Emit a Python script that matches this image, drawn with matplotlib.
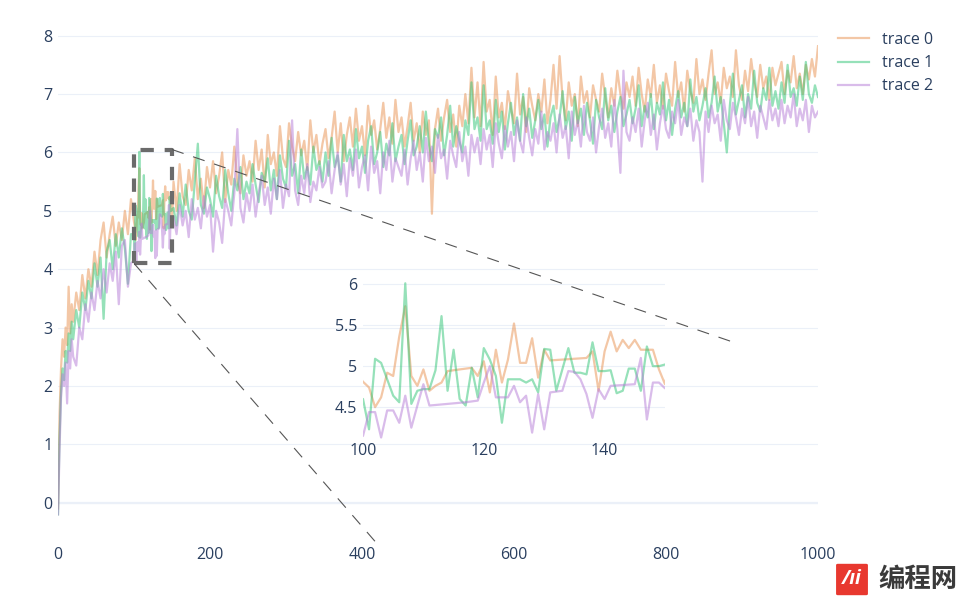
import matplotlib
matplotlib.use("Agg")
import matplotlib.pyplot as plt
from matplotlib.lines import Line2D
from matplotlib.patches import FancyBboxPatch

# ---------------- data ----------------
x_left = list(range(0, 21, 2)) + list(range(24, 97, 4))
x_right = list(range(152, 1001, 4))

x0_inset = list(range(100, 115)) + list(range(117, 132)) + list(range(137, 151))
x1_inset = list(range(100, 151))
x2_inset = list(range(100, 112)) + list(range(117, 142)) + list(range(145, 151))

y0_left = [-0.1, 1.5, 2.3, 2.8, 2.5, 3.0, 2.7, 3.7, 2.9, 3.4, 3.1,
           3.6, 3.3, 3.9, 3.5, 4.0, 3.7, 4.3, 3.9, 4.5, 4.8,
           4.2, 4.6, 4.9, 4.4, 4.8, 4.5, 5.0, 4.6, 5.2]
y1_left = [-0.2, 1.1, 1.9, 2.3, 2.1, 2.6, 2.4, 2.9, 2.6, 3.1, 2.8,
           3.3, 3.0, 3.6, 3.3, 3.8, 3.5, 4.1, 3.7, 4.2, 3.15,
           4.3, 4.5, 4.0, 4.6, 4.2, 4.7, 4.35, 3.75, 4.6]
y2_left = [-0.2, 0.9, 1.8, 2.2, 2.0, 2.4, 1.7, 2.6, 2.3, 2.8, 2.5,
           2.35, 3.0, 2.8, 3.4, 3.1, 3.6, 3.3, 3.8, 3.5, 4.0,
           3.6, 4.1, 3.8, 4.3, 3.4, 4.4, 4.5, 3.7, 4.1]

y0_inset = [4.81, 4.74, 4.50, 4.62, 4.92, 4.88, 5.36, 5.73, 4.88, 4.76, 4.96, 4.70, 4.76, 4.80, 4.94,
            4.97, 4.98, 4.88, 5.06, 4.68, 5.20, 4.80, 5.08, 5.52, 5.04, 5.04, 5.34, 4.86, 5.20, 5.07,
            5.10, 5.18, 4.70, 5.18, 5.42, 5.18, 5.32, 5.22, 5.32, 5.20, 5.20, 5.20, 4.96, 4.78]
y1_inset = [4.60, 4.23, 5.09, 5.04, 4.84, 4.64, 4.56, 6.01, 4.54, 4.70, 4.72, 4.72, 4.95, 5.61, 4.70,
            5.20, 4.60, 4.52, 4.98, 4.62, 5.22, 5.08, 4.88, 4.31, 4.84, 4.84, 4.84, 4.80, 4.84, 4.68,
            5.21, 5.20, 4.70, 4.96, 5.22, 4.92, 4.92, 4.90, 5.29, 4.94, 4.94, 4.95, 4.67, 4.70, 4.97,
            4.97, 4.70, 5.24, 5.00, 5.00, 5.02]
y2_inset = [4.15, 4.44, 4.44, 4.13, 4.46, 4.46, 4.31, 4.64, 4.25, 4.52, 4.78, 4.52,
            4.56, 4.57, 4.58, 4.80, 5.00, 4.62, 4.62, 4.62, 4.76, 4.56, 4.64, 4.19, 4.66, 4.23,
            4.68, 4.69, 4.70, 4.94, 4.93, 4.84, 4.66, 4.37, 4.72, 4.60, 4.76,
            4.78, 5.10, 4.35, 4.80, 4.80, 4.73]

y0_right = [5.5, 5.0, 5.8, 5.25, 5.1, 5.7, 5.35, 5.9, 5.2, 5.55, 5.05, 5.75, 5.4, 5.85, 5.3, 5.6, 6.0, 5.15, 5.7, 5.45, 6.1, 5.5, 5.3, 5.95, 5.6,
            5.85, 5.5, 6.2, 5.7, 6.05, 5.4, 6.3, 5.8, 6.0, 5.6, 6.45, 5.9, 5.75, 6.5, 6.1, 5.85, 6.35, 5.95, 6.2, 5.7, 6.55, 6.0, 6.3, 5.8, 6.15,
            6.4, 5.9, 6.25, 6.7, 6.0, 6.5, 5.85, 6.3, 6.6, 6.1, 6.75, 6.2, 6.45, 5.95, 6.8, 6.3, 6.55, 6.05, 6.4, 6.85, 6.25, 6.6, 6.15, 6.9, 6.35,
            6.6, 6.1, 6.45, 6.85, 6.2, 6.5, 6.0, 6.7, 6.3, 6.55, 4.95, 6.4, 6.75, 6.2, 6.6, 6.9, 6.35, 6.65, 6.1, 6.8, 6.45, 7.0, 6.5, 7.45, 6.6,
            7.2, 6.45, 7.55, 6.7, 6.9, 6.3, 7.3, 6.6, 6.85, 6.4, 7.05, 6.75, 6.5, 7.35, 6.65, 6.95, 6.35, 7.1, 6.8, 6.55, 7.0, 6.7, 7.25, 6.5, 6.9,
            7.5, 6.75, 7.65, 6.9, 6.55, 7.2, 6.8, 7.0, 6.45, 7.3, 6.85, 7.05, 6.6, 7.15, 6.9, 6.7, 7.35, 6.95, 6.6, 7.1, 6.8, 7.4, 7.0, 6.75, 7.2,
            6.95, 7.3, 6.8, 7.45, 7.0, 6.7, 7.25, 6.95, 7.5, 6.85, 7.15, 6.75, 7.35, 7.05, 6.8, 7.55, 6.95, 7.2, 6.7, 7.4, 7.05, 6.85, 7.6, 7.0, 7.25,
            6.9, 7.35, 7.75, 7.0, 7.2, 6.85, 7.45, 7.1, 7.3, 6.95, 7.75, 7.15, 6.9, 7.4, 7.05, 7.6, 7.2, 6.95, 7.5, 7.1, 7.3, 6.9, 7.45, 7.15, 7.35,
            7.55, 7.0, 7.4, 7.2, 7.65, 7.1, 7.35, 7.0, 7.5, 7.25, 7.6, 7.3, 7.82]
y1_right = [5.05, 4.75, 5.3, 4.9, 5.45, 5.0, 4.85, 5.5, 6.15, 5.1, 4.95, 5.4, 5.2, 4.9, 5.6, 5.25, 5.05, 5.7, 5.3, 5.0, 5.55, 5.35, 5.75, 5.2, 5.5,
            5.3, 5.8, 5.45, 5.15, 5.65, 5.5, 5.9, 5.35, 5.7, 5.2, 5.95, 5.55, 5.4, 6.2, 5.6, 5.8, 5.3, 6.05, 5.55, 5.75, 5.45, 6.1, 5.7, 5.85, 5.5,
            6.0, 5.6, 6.25, 5.75, 5.95, 5.5, 6.3, 5.85, 6.05, 5.7, 6.4, 5.9, 6.1, 5.65, 6.2, 6.45, 5.8, 6.0, 6.35, 5.75, 6.15, 5.95, 6.5, 5.85, 6.1,
            6.3, 5.8, 6.2, 6.55, 5.95, 6.1, 6.45, 6.0, 6.7, 6.15, 5.85, 6.4, 6.25, 6.6, 5.95, 6.3, 6.8, 6.1, 6.45, 6.2, 6.0, 6.55, 6.3, 7.2, 6.4,
            6.6, 6.2, 7.15, 6.4, 6.55, 6.15, 6.9, 6.35, 6.7, 6.05, 6.5, 6.85, 6.3, 6.6, 6.2, 7.0, 6.45, 6.75, 6.25, 6.55, 6.9, 6.4, 6.65, 6.1, 6.6,
            6.8, 6.35, 6.6, 7.05, 6.4, 6.7, 6.2, 6.95, 6.5, 6.75, 6.3, 6.85, 6.55, 6.15, 6.9, 6.6, 6.4, 7.1, 6.55, 6.8, 6.35, 6.7, 6.95, 6.45, 6.65,
            6.9, 6.5, 6.75, 7.15, 6.45, 6.8, 6.6, 7.0, 6.4, 6.85, 6.65, 7.2, 6.55, 6.9, 6.3, 6.75, 7.05, 6.6, 6.85, 6.45, 7.25, 6.7, 6.95, 6.55, 6.8,
            7.1, 6.6, 6.85, 7.3, 6.7, 6.95, 6.5, 6.0, 6.8, 7.35, 6.65, 6.9, 7.15, 6.6, 7.0, 6.75, 7.4, 6.85, 6.7, 7.1, 6.9, 7.45, 6.8, 7.05, 6.75,
            7.2, 6.85, 7.5, 6.95, 7.1, 6.8, 7.3, 6.9, 7.55, 7.0, 6.85, 7.15, 6.95]
y2_right = [4.9, 4.6, 5.1, 4.75, 5.0, 4.55, 5.2, 4.85, 5.05, 4.7, 5.25, 4.9, 5.1, 4.3, 5.0, 4.8, 4.45, 5.2, 5.0, 4.75, 5.3, 6.4, 5.05, 4.8, 5.3,
            5.0, 5.45, 4.9, 5.3, 5.6, 5.1, 5.4, 4.95, 5.55, 5.2, 5.7, 5.05, 5.45, 5.25, 6.55, 5.35, 5.1, 5.6, 5.3, 5.8, 5.15, 5.5, 5.35, 5.75, 5.4,
            5.5, 5.85, 5.3, 5.7, 6.0, 5.45, 5.8, 5.25, 5.9, 5.6, 6.05, 5.4, 5.75, 5.95, 5.35, 6.1, 5.65, 5.85, 5.3, 6.0, 5.7, 6.2, 5.5, 5.9, 5.75,
            5.6, 6.05, 5.45, 5.9, 6.2, 5.7, 6.0, 5.5, 6.25, 5.85, 6.1, 5.65, 6.3, 5.9, 6.05, 5.55, 6.2, 5.95, 5.75, 6.35, 5.85, 6.1, 5.6, 6.3, 6.0,
            6.25, 5.8, 6.4, 6.05, 6.3, 5.75, 6.5, 6.15, 5.9, 6.45, 6.1, 6.35, 5.85, 6.55, 6.2, 6.0, 6.6, 6.25, 5.95, 6.4, 6.15, 6.7, 6.05, 6.35, 6.2,
            6.5, 6.0, 6.65, 6.25, 6.45, 5.9, 6.7, 6.3, 6.55, 6.1, 6.8, 6.35, 6.2, 6.6, 6.0, 6.45, 6.75, 6.25, 6.5, 6.1, 6.9, 6.4, 5.65, 7.4, 6.35,
            6.2, 6.6, 6.35, 6.75, 6.1, 6.55, 6.85, 6.3, 6.65, 6.05, 6.5, 6.8, 6.4, 6.25, 6.7, 6.5, 6.9, 6.3, 6.6, 6.45, 6.75, 6.2, 6.55, 6.35, 5.5,
            6.7, 6.35, 6.8, 6.5, 6.65, 6.2, 6.9, 6.55, 6.4, 6.85, 6.6, 6.3, 6.75, 6.5, 6.95, 6.45, 6.7, 6.25, 6.8, 6.6, 6.4, 6.9, 6.55, 6.75, 6.45,
            6.9, 6.5, 6.8, 6.6, 7.0, 6.45, 6.75, 6.55, 6.9, 6.35, 6.8, 6.6, 6.7]

trace_names = ["trace 0", "trace 1", "trace 2"]
xs = [x_left + x0_inset + x_right, x_left + x1_inset + x_right, x_left + x2_inset + x_right]
ys = [y0_left + y0_inset + y0_right, y1_left + y1_inset + y1_right, y2_left + y2_inset + y2_right]

zoom_x = [100, 150]
zoom_y = [4.1, 6.05]
connector_ends = [(893, 2.73), (419, -0.69)]

# ---------------- style ----------------
colors = ["#E8904E", "#2EC474", "#B47AD6"]
alpha = 0.5
grid_c = "#EBF0F8"
tick_c = "#2a3f5f"
FS = 11.5
plt.rcParams["font.family"] = ["Open Sans", "DejaVu Sans"]
W, H = 966, 598
fig = plt.figure(figsize=(W / 100, H / 100), dpi=100)

def px_axes(l, t, r, b):
    return [l / W, 1 - b / H, (r - l) / W, (b - t) / H]

ax = fig.add_axes(px_axes(58, 24, 818, 543))
for k in range(3):
    ax.plot(xs[k], ys[k], color=colors[k], alpha=alpha, lw=1.6, label=trace_names[k], zorder=3)
ax.set_xlim(0, 1000)
ax.set_ylim(-0.69, 8.2)
ax.set_yticks(range(0, 9))
ax.set_xticks([0, 200, 400, 600, 800, 1000])
for s in ax.spines.values():
    s.set_visible(False)
ax.grid(axis="y", color=grid_c, lw=0.8, zorder=0)
ax.grid(axis="x", visible=False)
ax.axhline(0, color=grid_c, lw=1.6, zorder=1)
ax.tick_params(length=0, labelsize=FS, labelcolor=tick_c)
ax.tick_params(axis="x", pad=3)
ax.tick_params(axis="y", pad=4)
ax.set_axisbelow(True)

# zoom rectangle
rx = [zoom_x[0], zoom_x[1], zoom_x[1], zoom_x[0], zoom_x[0]]
ry = [zoom_y[0], zoom_y[0], zoom_y[1], zoom_y[1], zoom_y[0]]
ax.plot(rx, ry, color="#6b6b6b", lw=3, dashes=(3.2, 2.6), zorder=5, solid_capstyle="butt",
        dash_capstyle="butt")
# connectors
ax.plot([zoom_x[1], connector_ends[0][0]], [zoom_y[1], connector_ends[0][1]],
        color="#555555", lw=0.8, dashes=(11, 9), zorder=5, clip_on=False)
ax.plot([zoom_x[0], connector_ends[1][0]], [zoom_y[0], connector_ends[1][1]],
        color="#555555", lw=0.8, dashes=(11, 9), zorder=5, clip_on=False)

# inset
axi = fig.add_axes(px_axes(363, 280, 665, 440))
axi.patch.set_alpha(0)
for k in range(3):
    axi.plot(xs[k], ys[k], color=colors[k], alpha=alpha, lw=1.6, zorder=3)
axi.set_xlim(*zoom_x)
axi.set_ylim(*zoom_y)
axi.set_xticks([100, 120, 140])
axi.set_yticks([4.5, 5, 5.5, 6])
axi.set_yticklabels(["4.5", "5", "5.5", "6"])
for s in axi.spines.values():
    s.set_visible(False)
axi.grid(axis="y", color=grid_c, lw=0.8, zorder=0)
axi.tick_params(length=0, labelsize=FS, labelcolor=tick_c)
axi.tick_params(axis="x", pad=2)
axi.tick_params(axis="y", pad=4)

# legend
handles = [Line2D([], [], color=colors[k], alpha=alpha, lw=1.6) for k in range(3)]
fig.legend(handles, trace_names, loc="upper left", bbox_to_anchor=(838 / W, 1 - 32 / H),
           frameon=False, fontsize=FS, handlelength=1.95, handletextpad=0.8,
           labelspacing=0.45, borderpad=0, borderaxespad=0, labelcolor=tick_c)

# watermark
fig.patches.append(FancyBboxPatch((838 / W, 1 - 594 / H), 28 / W, 29 / H,
                                  boxstyle="round,pad=0.002", transform=fig.transFigure,
                                  facecolor="#E8382F", edgecolor="none"))
fig.text(852 / W, 1 - 579 / H, "/ıi", color="white", fontsize=14, fontweight="bold",
         style="italic", ha="center", va="center")
fig.text(918 / W, 1 - 579 / H, "编程网", family=["Noto Sans CJK SC", "DejaVu Sans"],
         color="#3a3a3a", fontsize=19, fontweight="bold", ha="center", va="center")

fig.savefig("out.png", dpi=100)
